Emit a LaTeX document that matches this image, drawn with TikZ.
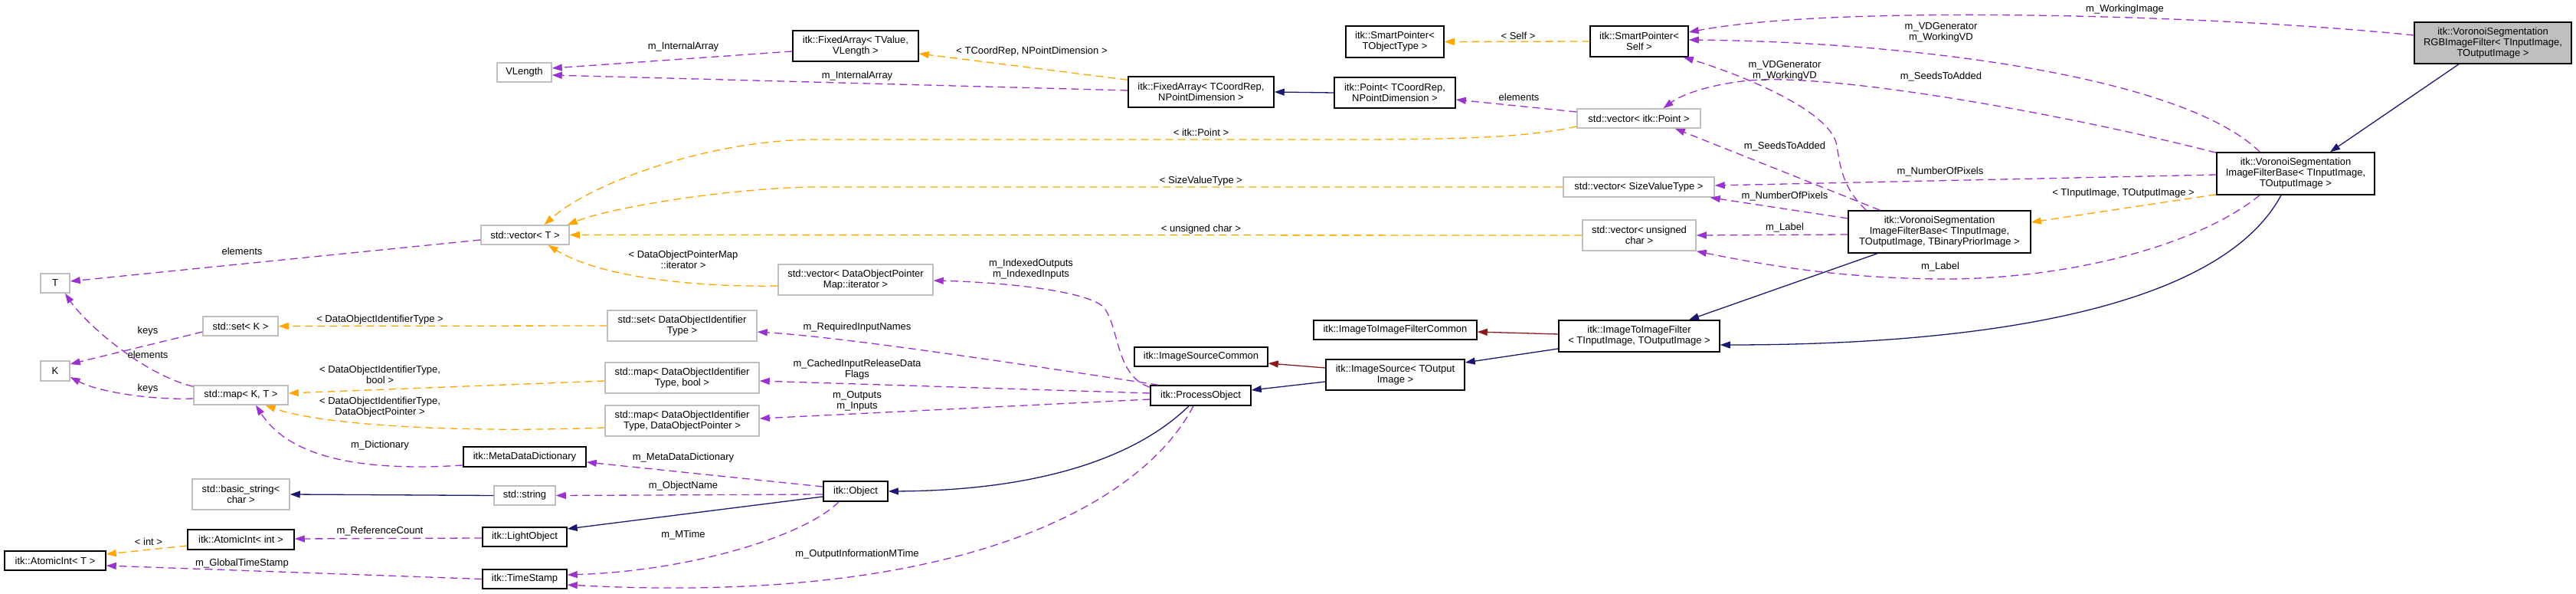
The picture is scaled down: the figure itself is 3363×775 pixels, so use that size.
\documentclass[tikz,border=0pt]{standalone}
\usepackage{fontspec}
\setmainfont{Liberation Sans}
\usetikzlibrary{arrows.meta}
\definecolor{usecol}{HTML}{9A32CD}
\definecolor{tplcol}{HTML}{FFA500}
\definecolor{inhcol}{HTML}{191970}
\definecolor{protcol}{HTML}{8B1A1A}
\definecolor{graybd}{HTML}{BFBFBF}
\begin{document}
\begin{tikzpicture}[x=1pt,y=-1pt,
  box/.style={draw=black, line width=1.5pt, fill=white, inner sep=0pt, align=center, font=\fontsize{13}{14}\selectfont},
  gbox/.style={box, draw=graybd},
  lbl/.style={inner sep=0pt, align=center, font=\fontsize{13}{14}\selectfont},
  tip/.style={-{Triangle[length=13pt,width=9pt]}},
  use/.style={draw=usecol, line width=1.3pt, dash pattern=on 10pt off 6pt, tip},
  tpl/.style={draw=tplcol, line width=1.3pt, dash pattern=on 10pt off 6pt, tip},
  inh/.style={draw=inhcol, line width=1.3pt, tip},
  prot/.style={draw=protcol, line width=1.3pt, tip}]
\useasboundingbox (0,0) rectangle (3363,775);
\fill[white] (0,0) rectangle (3363,775);

% nodes
\node[box, fill=graybd, minimum width=205pt, minimum height=54pt] (rgb) at (3254.5,56) {itk::VoronoiSegmentation\\RGBImageFilter< TInputImage,\\ TOutputImage >};
\node[box, minimum width=206pt, minimum height=55pt] (vsiftwo) at (2997,226.5) {itk::VoronoiSegmentation\\ImageFilterBase< TInputImage,\\ TOutputImage >};
\node[box, minimum width=238pt, minimum height=55pt] (vsifthree) at (2532,302.5) {itk::VoronoiSegmentation\\ImageFilterBase< TInputImage,\\ TOutputImage, TBinaryPriorImage >};
\node[box, minimum width=210pt, minimum height=41pt] (iti) at (2140,438.5) {itk::ImageToImageFilter\\< TInputImage, TOutputImage >};
\node[box, minimum width=213pt, minimum height=25pt] (itic) at (1821.5,430.5) {itk::ImageToImageFilterCommon};
\node[box, minimum width=181pt, minimum height=40pt] (isrc) at (1821.5,489) {itk::ImageSource< TOutput\\Image >};
\node[box, minimum width=174pt, minimum height=25pt] (isc) at (1568,465.5) {itk::ImageSourceCommon};
\node[box, minimum width=131pt, minimum height=26pt] (po) at (1567.5,516) {itk::ProcessObject};
\node[box, minimum width=84pt, minimum height=26pt] (obj) at (1117,641) {itk::Object};
\node[box, minimum width=110pt, minimum height=25pt] (lo) at (685,700.5) {itk::LightObject};
\node[box, minimum width=110pt, minimum height=25pt] (ts) at (685,755.5) {itk::TimeStamp};
\node[box, minimum width=139pt, minimum height=26pt] (aiint) at (314.5,704) {itk::AtomicInt< int >};
\node[box, minimum width=132pt, minimum height=25pt] (ait) at (72,731.5) {itk::AtomicInt< T >};
\node[gbox, minimum width=80pt, minimum height=25pt] (str) at (685,646.5) {std::string};
\node[gbox, minimum width=127pt, minimum height=40pt] (bstr) at (314.5,645) {std::basic\_string<\\char >};
\node[box, minimum width=160pt, minimum height=26pt] (mdd) at (685,596) {itk::MetaDataDictionary};
\node[gbox, minimum width=123pt, minimum height=25pt] (mapkt) at (314.5,515.5) {std::map< K, T >};
\node[gbox, minimum width=98pt, minimum height=25pt] (setk) at (314,425.5) {std::set< K >};
\node[gbox, minimum width=38pt, minimum height=26pt] (knode) at (72,484) {K};
\node[gbox, minimum width=38pt, minimum height=25pt] (tnode) at (72,369.5) {T};
\node[gbox, minimum width=115pt, minimum height=25pt] (vect) at (685.5,306.5) {std::vector< T >};
\node[gbox, minimum width=71pt, minimum height=25pt] (vlen) at (684.5,94.5) {VLength};
\node[box, minimum width=164pt, minimum height=40pt] (fav) at (1117,60) {itk::FixedArray< TValue,\\VLength >};
\node[box, minimum width=190pt, minimum height=40pt] (fac) at (1568,120) {itk::FixedArray< TCoordRep,\\NPointDimension >};
\node[box, minimum width=158pt, minimum height=40pt] (pt) at (1821,121) {itk::Point< TCoordRep,\\NPointDimension >};
\node[box, minimum width=128pt, minimum height=41pt] (spt) at (1821,54.5) {itk::SmartPointer<\\TObjectType >};
\node[box, minimum width=128pt, minimum height=40pt] (sps) at (2140,54) {itk::SmartPointer<\\Self >};
\node[gbox, minimum width=161pt, minimum height=25pt] (vecpt) at (2139.5,154.5) {std::vector< itk::Point >};
\node[gbox, minimum width=197pt, minimum height=26pt] (vecsvt) at (2139.5,244) {std::vector< SizeValueType >};
\node[gbox, minimum width=148pt, minimum height=40pt] (vecuc) at (2140,307) {std::vector< unsigned\\char >};
\node[gbox, minimum width=202pt, minimum height=40pt] (vecit) at (1117,365) {std::vector< DataObjectPointer\\Map::iterator >};
\node[gbox, minimum width=195pt, minimum height=40pt] (setdoi) at (890.5,425) {std::set< DataObjectIdentifier\\Type >};
\node[gbox, minimum width=201pt, minimum height=40pt] (mapbool) at (890.5,493) {std::map< DataObjectIdentifier\\Type, bool >};
\node[gbox, minimum width=201pt, minimum height=40pt] (mapdop) at (890.5,549) {std::map< DataObjectIdentifier\\Type, DataObjectPointer >};

% usage edges (purple)
\draw[use] ([yshift=-7pt]fav.west) -- ([yshift=5.5pt]vlen.east);
\draw[use] ([yshift=2pt]fac.west) -- ([yshift=-3.5pt]vlen.east);
\draw[use] ([yshift=-6.5pt]vect.west) -- ([yshift=2.5pt]tnode.east);
\draw[use] ([yshift=-7.5pt]setk.west) -- ([yshift=9pt]knode.east);
\draw[use] ([yshift=-2pt]mapkt.north west) .. controls (185,488) and (110,420) .. ([xshift=13pt]tnode.south);
\draw[use] ([yshift=-4.5pt]mapkt.west) .. controls (200,522) and (130,512) .. ([yshift=-8pt]knode.east);
\draw[use] ([yshift=-11pt]mdd.west) .. controls (480,615) and (380,600) .. ([xshift=19.5pt]mapkt.south);
\draw[use] ([yshift=6pt]obj.west) -- ([yshift=-7pt]mdd.east);
\draw[use] ([yshift=-4pt]obj.west) -- (str.east);
\draw[use] ([yshift=-1.5pt]lo.west) -- ([yshift=1pt]aiint.east);
\draw[use] (ts.west) -- ([yshift=-6.5pt]ait.east);
\draw[use] ([xshift=-22pt]obj.south) .. controls (1050,700) and (900,745) .. ([yshift=5.5pt]ts.east);
\draw[use] ([xshift=-9.5pt]po.south) .. controls (1490,660) and (1250,790) .. ([yshift=-7.5pt]ts.east);
\draw[use] ([xshift=11pt]po.north west) .. controls (1300,470) and (1100,440) .. ([yshift=-8pt]setdoi.east);
\draw[use] ([yshift=3pt]po.west) -- ([yshift=-4pt]mapbool.east);
\draw[use] ([yshift=-5pt]po.west) -- ([yshift=3pt]mapdop.east);
\draw[use] ([yshift=-3pt]po.north west) .. controls (1455,490) and (1462,425) .. (1440,400) .. controls (1415,378) and (1300,368) .. ([yshift=-1pt]vecit.east);
\draw[use] ([yshift=8.5pt]vecpt.west) -- ([yshift=-9pt]pt.east);
\draw[use] ([xshift=24pt]vsifthree.north west) .. controls (2405,245) and (2402,215) .. (2398,190) .. controls (2390,140) and (2250,90) .. ([xshift=-7pt]sps.south east);
\draw[use] ([xshift=42pt]vsifthree.north west) -- ([xshift=-34pt]vecpt.south east);
\draw[use] ([yshift=17.5pt]vsifthree.west) -- ([xshift=-6pt]vecsvt.south east);
\draw[use] ([yshift=-3.5pt]vsifthree.west) -- (vecuc.east);
\draw[use] ([yshift=10pt]rgb.west) .. controls (2900,20) and (2400,5) .. ([yshift=12pt]sps.east);
\draw[use] ([xshift=57pt]vsiftwo.north west) .. controls (2850,100) and (2500,55) .. ([yshift=2pt]sps.east);
\draw[use] ([yshift=-1pt]vsiftwo.north west) .. controls (2700,150) and (2420,100) .. (2300,104) .. controls (2250,106) and (2200,120) .. ([xshift=32pt]vecpt.north);
\draw[use] ([yshift=-1.5pt]vsiftwo.west) -- ([yshift=2pt]vecsvt.east);
\draw[use] ([xshift=-47pt]vsiftwo.south) .. controls (2870,320) and (2700,365) .. (2533,364) .. controls (2400,363) and (2300,345) .. (vecuc.south east);

% template edges (orange)
\draw[tpl] ([yshift=-5pt]fac.north west) -- ([yshift=-10pt]fav.east);
\draw[tpl] (sps.west) -- (spt.east);
\draw[tpl] ([yshift=-10.5pt]vecpt.west) .. controls (1990,180) and (1900,182) .. (1750,182) -- (1060,182) .. controls (920,184) and (770,240) .. ([xshift=25pt]vect.north);
\draw[tpl] (vecsvt.west) -- (1060,244) .. controls (950,246) and (800,270) .. ([xshift=-3pt]vect.north east);
\draw[tpl] (vecuc.west) -- (vect.east);
\draw[tpl] ([yshift=-8pt]vecit.west) .. controls (900,375) and (780,360) .. ([xshift=30pt]vect.south);
\draw[tpl] (setdoi.west) -- (setk.east);
\draw[tpl] ([yshift=-4pt]mapbool.west) -- ([yshift=2.5pt]mapkt.east);
\draw[tpl] ([yshift=-9pt]mapdop.west) .. controls (600,565) and (420,555) .. ([xshift=32pt]mapkt.south);
\draw[tpl] ([yshift=-8pt]aiint.west) -- ([yshift=8.5pt]ait.east);
\draw[tpl] ([yshift=1pt]vsiftwo.south west) -- ([yshift=12.5pt]vsifthree.east);

% inheritance edges (blue)
\draw[inh] (pt.west) -- (fac.east);
\draw[inh] (str.west) -- (bstr.east);
\draw[inh] ([yshift=-7pt]obj.west) -- ([yshift=10.5pt]lo.east);
\draw[inh] ([xshift=-15.5pt]po.south) .. controls (1480,600) and (1350,640) .. (obj.east);
\draw[inh] ([yshift=-9pt]isrc.west) -- ([yshift=7pt]po.east);
\draw[inh] ([yshift=-16.5pt]iti.west) -- ([yshift=16pt]isrc.east);
\draw[inh] ([xshift=-81pt]vsifthree.south) -- ([xshift=65pt]iti.north);
\draw[inh] ([xshift=-19pt]vsiftwo.south) .. controls (2900,400) and (2600,450) .. ([yshift=-11.5pt]iti.east);
\draw[inh] ([xshift=-44.5pt]rgb.south) -- ([xshift=45pt]vsiftwo.north);

% protected inheritance (red)
\draw[prot] ([yshift=9pt]isrc.west) -- ([yshift=-8.5pt]isc.east);
\draw[prot] ([yshift=2.5pt]iti.west) -- ([yshift=-2.5pt]itic.east);

% labels
\node[lbl] (l1) at (892,61) {m\_InternalArray};
\node[lbl] (l2) at (1347,67) {< TCoordRep, NPointDimension >};
\node[lbl] (l3) at (1119,99) {m\_InternalArray};
\node[lbl] (l4) at (1982,47) {< Self >};
\node[lbl] (l5) at (1983,127) {elements};
\node[lbl] (l6) at (1568,173) {< itk::Point >};
\node[lbl] (l7) at (1568,236) {< SizeValueType >};
\node[lbl] (l8) at (1568,299) {< unsigned char >};
\node[lbl] (l9) at (316,328) {elements};
\node[lbl] (l10) at (892,339) {< DataObjectPointerMap\\::iterator >};
\node[lbl] (l11) at (1346,351) {m\_IndexedOutputs\\m\_IndexedInputs};
\node[lbl] (l12) at (496,417) {< DataObjectIdentifierType >};
\node[lbl] (l13) at (193,432) {keys};
\node[lbl] (l14) at (193,463) {elements};
\node[lbl] (l15) at (496,489) {< DataObjectIdentifierType,\\bool >};
\node[lbl] (l16) at (193,507) {keys};
\node[lbl] (l17) at (496,531) {< DataObjectIdentifierType,\\DataObjectPointer >};
\node[lbl] (l18) at (496,581) {m\_Dictionary};
\node[lbl] (l19) at (1119,427) {m\_RequiredInputNames};
\node[lbl] (l20) at (1119,482) {m\_CachedInputReleaseData\\Flags};
\node[lbl] (l21) at (1119,523) {m\_Outputs\\m\_Inputs};
\node[lbl] (l22) at (892,597) {m\_MetaDataDictionary};
\node[lbl] (l23) at (892,634) {m\_ObjectName};
\node[lbl] (l24) at (892,698) {m\_MTime};
\node[lbl] (l25) at (1119,723) {m\_OutputInformationMTime};
\node[lbl] (l26) at (496,693) {m\_ReferenceCount};
\node[lbl] (l27) at (194,707) {< int >};
\node[lbl] (l28) at (316,735) {m\_GlobalTimeStamp};
\node[lbl] (l29) at (2774,12) {m\_WorkingImage};
\node[lbl] (l30) at (2330,92) {m\_VDGenerator\\m\_WorkingVD};
\node[lbl] (l31) at (2534,42) {m\_VDGenerator\\m\_WorkingVD};
\node[lbl] (l32) at (2330,191) {m\_SeedsToAdded};
\node[lbl] (l33) at (2534,100) {m\_SeedsToAdded};
\node[lbl] (l34) at (2330,256) {m\_NumberOfPixels};
\node[lbl] (l35) at (2533,224) {m\_NumberOfPixels};
\node[lbl] (l36) at (2330,297) {m\_Label};
\node[lbl] (l37) at (2533,348) {m\_Label};
\node[lbl] (l38) at (2772,252) {< TInputImage, TOutputImage >};
\end{tikzpicture}
\end{document}
